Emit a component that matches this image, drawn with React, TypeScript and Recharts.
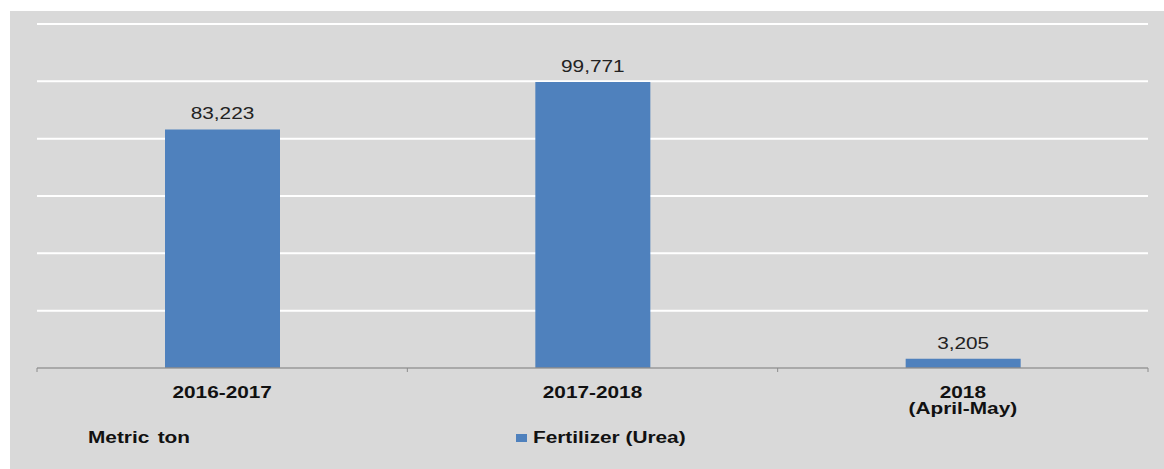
import React from 'react';
import { BarChart, Bar, XAxis, YAxis, CartesianGrid, LabelList, Legend } from 'recharts';

const categories = ['2016-2017', '2017-2018', '2018\n(April-May)'];
const ureaValues = [83223, 99771, 3205];
const yTicks = [0, 20000, 40000, 60000, 80000, 100000, 120000];
const seriesName = 'Fertilizer (Urea)';
const unitLabel = 'Metric ton';

const data = categories.map((c, i) => ({ category: c, urea: ureaValues[i] }));

const FONT = '"Liberation Sans", Arial, sans-serif';
const STRETCH = 1.3;
const BAR_COLOR = '#4f81bd';

const CategoryTick = (props: any) => {
  const { x, y, payload, index } = props;
  const lines = String(payload.value).split('\n');
  const half = payload.offset || 0;
  return (
    <g>
      <line x1={x - half} x2={x - half} y1={y - 8} y2={y - 4} stroke="#8c8c8c" />
      {index === categories.length - 1 && (
        <line x1={x + half} x2={x + half} y1={y - 8} y2={y - 4} stroke="#8c8c8c" />
      )}
      {lines.map((ln, i) => (
        <text
          key={i}
          transform={`translate(${x},${y + 22 + i * 16}) scale(${STRETCH},1)`}
          textAnchor="middle"
          fontFamily={FONT}
          fontWeight="bold"
          fontSize={16}
          fill="#111"
        >
          {ln}
        </text>
      ))}
    </g>
  );
};

const ValueLabel = (props: any) => {
  const { x, y, width, value } = props;
  return (
    <text
      transform={`translate(${x + width / 2},${y - 10}) scale(${STRETCH},1)`}
      textAnchor="middle"
      fontFamily={FONT}
      fontSize={16}
      fill="#222"
    >
      {Number(value).toLocaleString('en-US')}
    </text>
  );
};

const LegendContent = (props: any) => {
  const payload = props.payload || [];
  return (
    <div style={{ position: 'relative', width: 1164, height: 24, fontFamily: FONT, fontWeight: 'bold', fontSize: 16, color: '#111' }}>
      <span
        style={{ position: 'absolute', left: 88, top: 0, whiteSpace: 'pre', wordSpacing: 2, transform: `scaleX(${STRETCH})`, transformOrigin: 'left center' }}
      >
        {unitLabel}
      </span>
      {payload.map((p: any, i: number) => (
        <span key={i} style={{ position: 'absolute', left: 516, top: 0, display: 'flex', alignItems: 'center' }}>
          <span style={{ display: 'inline-block', width: 11, height: 8, background: p.color, marginRight: 6 }} />
          <span style={{ display: 'inline-block', transform: `scaleX(${STRETCH})`, transformOrigin: 'left center', whiteSpace: 'pre' }}>
            {p.value}
          </span>
        </span>
      ))}
    </div>
  );
};

export default function App() {
  return (
    <div style={{ position: 'absolute', left: 0, top: 0, width: 1164, height: 469, background: '#ffffff', overflow: 'hidden' }}>
      <div style={{ position: 'absolute', left: 10, top: 11, width: 1154, height: 458, background: '#d9d9d9' }} />
      <div style={{ position: 'absolute', left: 0, top: 0 }}>
        <BarChart
          width={1164}
          height={469}
          data={data}
          margin={{ top: 24, right: 16, bottom: 41, left: 37 }}
          barCategoryGap={0}
        >
          <CartesianGrid horizontal vertical={false} stroke="#ffffff" strokeWidth={2} />
          <YAxis hide domain={[0, 120000]} ticks={yTicks} />
          <XAxis
            dataKey="category"
            axisLine={{ stroke: '#8c8c8c', strokeWidth: 1.5 }}
            tickLine={false}
            tick={<CategoryTick />}
            interval={0}
            height={60}
          />
          <Legend
            layout="horizontal"
            verticalAlign="middle"
            align="center"
            content={<LegendContent />}
            wrapperStyle={{ top: 429, left: 0, width: 1164 }}
          />
          <Bar dataKey="urea" name={seriesName} fill={BAR_COLOR} barSize={115} isAnimationActive={false}>
            <LabelList dataKey="urea" content={<ValueLabel />} />
          </Bar>
        </BarChart>
      </div>
    </div>
  );
}
